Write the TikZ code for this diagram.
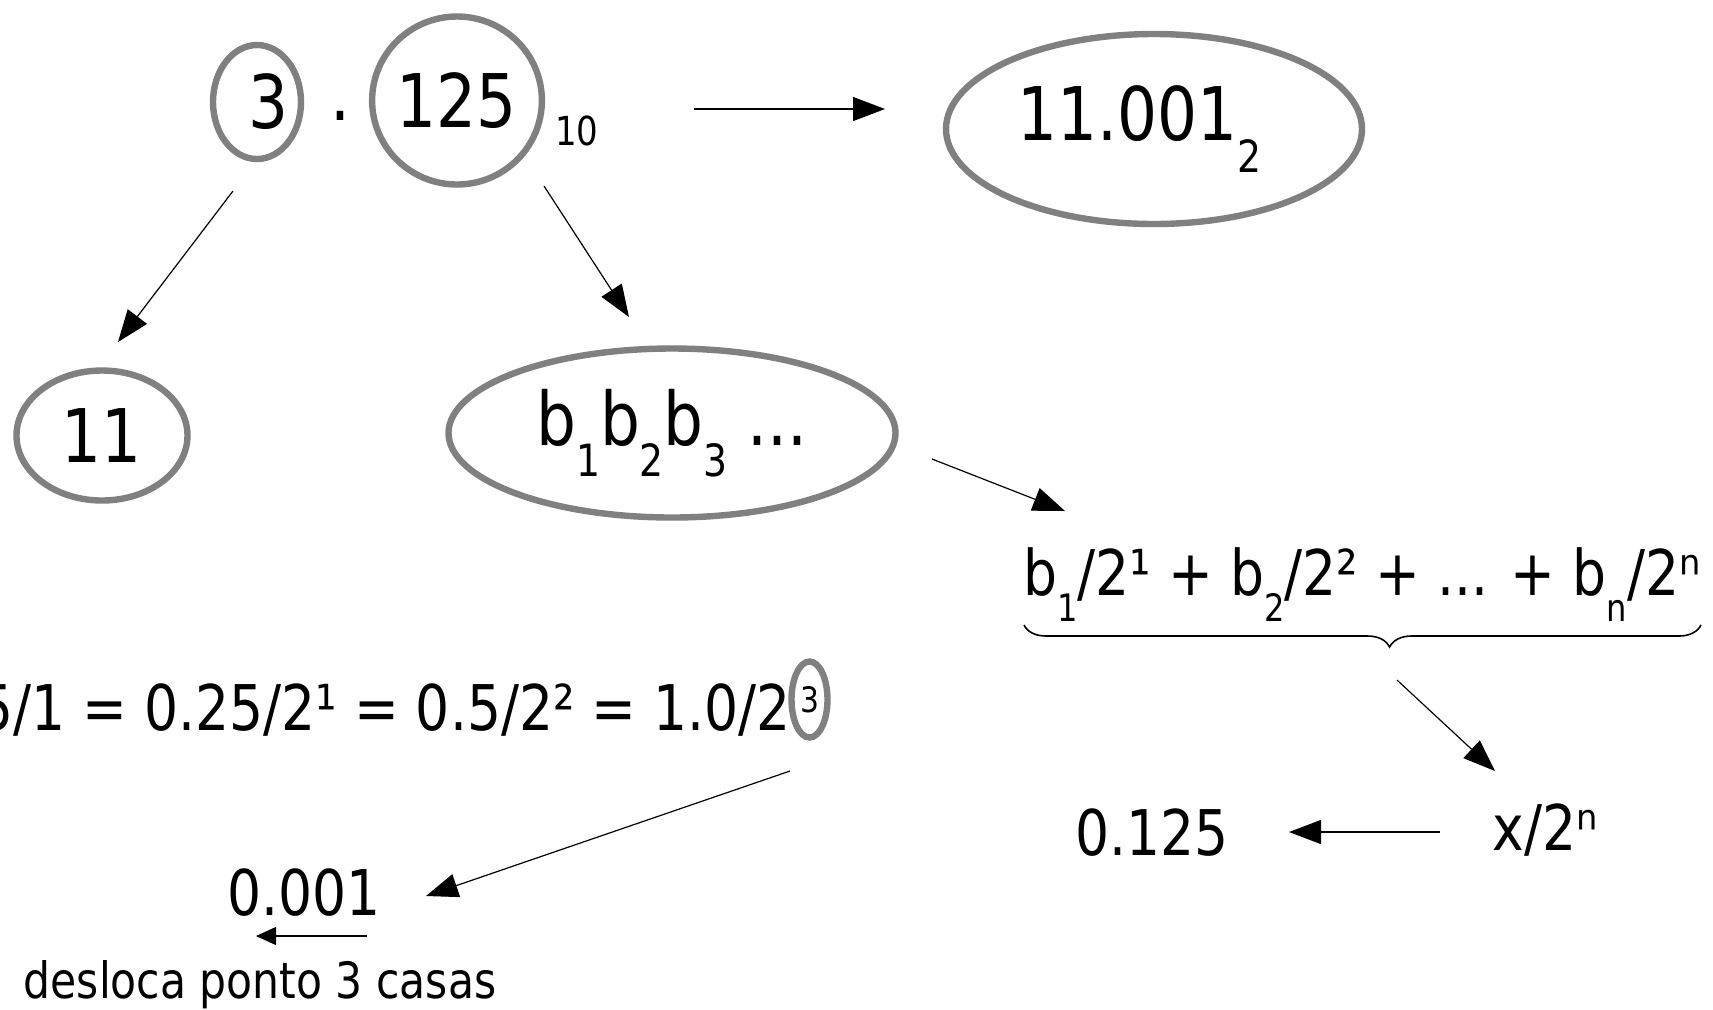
\documentclass[tikz,border=0pt]{standalone}
\usepackage{fontspec}
\setmainfont{DejaVu Sans}[FakeStretch=0.85]
\usepackage{graphicx}
\usepackage{tikz}
\usetikzlibrary{arrows.meta}
\usetikzlibrary{shapes.geometric}
\usetikzlibrary{decorations.pathreplacing}

\newcommand\lowidx[1]{\raisebox{-0.42em}{\scalebox{0.6}{#1}}}

\begin{document}
\begin{tikzpicture}[
    x=0.5pt, y=-0.5pt,
    oval/.style={draw=gray, line width=3.2pt, ellipse, inner sep=0pt},
    bigtxt/.style={font=\fontsize{37}{44}\selectfont},
    midtxt/.style={font=\fontsize{31.5}{37}\selectfont},
    smalltxt/.style={font=\fontsize{25}{30}\selectfont},
    tinytxt/.style={font=\fontsize{20}{24}\selectfont},
    conn/.style={line width=0.6pt, -{Triangle[length=16pt,width=12pt]}}
]
\useasboundingbox (0,0) rectangle (1713,1009);

% decimal number 3.125
\node[oval, bigtxt, minimum width=42pt, minimum height=57pt] (intpart) at (257,102) {\kern0.3em3};
\node[bigtxt, anchor=base] (point) at (340,120) {.};
\node[oval, bigtxt, minimum width=84pt, minimum height=84pt] (fracpart) at (457,100.5) {125};
\node[tinytxt] (baseten) at (577,131) {10};

% result
\node[oval, bigtxt, minimum width=208pt, minimum height=95pt] (binres) at (1154,129) {11.001\lowidx{2}\kern0.38em};

% integer and fraction parts
\node[oval, bigtxt, minimum width=85.5pt, minimum height=65pt] (intbin) at (102,435.5) {11};
\node[oval, bigtxt, minimum width=223.5pt, minimum height=84.5pt] (bits) at (672,433)
    {b\lowidx{1}b\lowidx{2}b\lowidx{3} ...};

% sum of bits
\node[midtxt, anchor=base] (bitsum) at (1362,595)
    {b\lowidx{1}/2¹ + b\lowidx{2}/2² + ... + b\lowidx{n}/2ⁿ};
\coordinate (braceL) at (1024,625);
\coordinate (braceR) at (1701,625);
\draw[decorate, decoration={brace, mirror, amplitude=11pt, aspect=0.54}, line width=0.8pt]
    (braceL) -- (braceR);

\node[midtxt, anchor=base] (xover) at (1545,850) {x/2ⁿ};
\node[midtxt, anchor=base] (fracval) at (1152,855) {0.125};

% halving chain
\node[midtxt, anchor=base east] (chain) at (798,730) {5/1 = 0.25/2¹ = 0.5/2² = 1.0/2};
\node[oval, font=\fontsize{17.5}{21}\selectfont, minimum width=18pt, minimum height=38pt] (expo) at (809.5,699.5) {3};

\node[midtxt, anchor=base] (fracbin) at (304,915) {0.001};
\node[smalltxt, anchor=base] (shiftnote) at (260,998) {desloca ponto 3 casas};

% arrow ends
\coordinate (topS) at (694,109);   \coordinate (topT) at (885,109);
\coordinate (intS) at (233,191);   \coordinate (intT) at (118,342);
\coordinate (fracS) at (544,186);  \coordinate (fracT) at (629,317);
\coordinate (bitsS) at (932,459);  \coordinate (bitsT) at (1065,511);
\coordinate (braceS) at (1397,680);\coordinate (braceT) at (1495,771);
\coordinate (xS) at (1440,832);    \coordinate (xT) at (1289,832);
\coordinate (expS) at (790,771);   \coordinate (expT) at (426,896);
\coordinate (shiftS) at (367,936); \coordinate (shiftT) at (256,936);

\draw[conn] (topS) -- (topT);
\draw[conn] (intS) -- (intT);
\draw[conn] (fracS) -- (fracT);
\draw[conn] (bitsS) -- (bitsT);
\draw[conn] (braceS) -- (braceT);
\draw[conn] (xS) -- (xT);
\draw[conn] (expS) -- (expT);
\draw[line width=0.6pt, -{Triangle[length=10pt,width=9pt]}] (shiftS) -- (shiftT);
\end{tikzpicture}
\end{document}
